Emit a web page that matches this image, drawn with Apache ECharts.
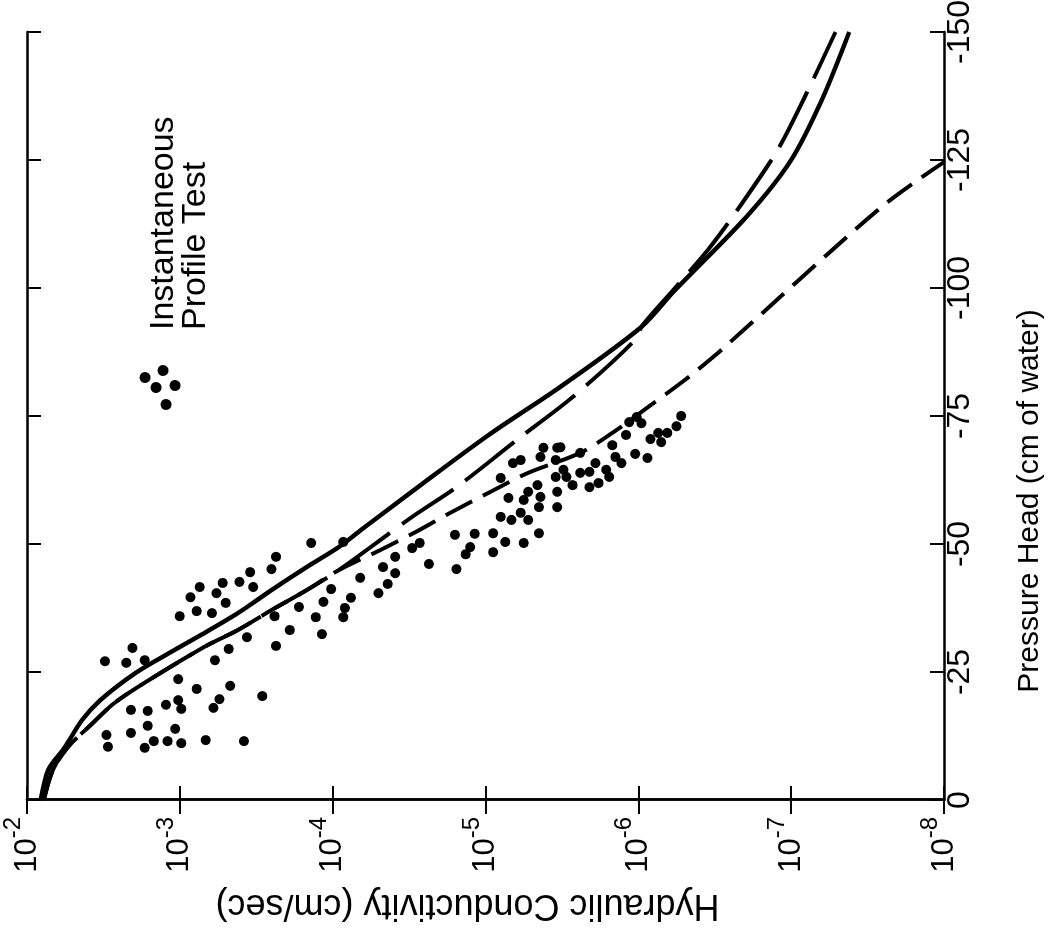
<!DOCTYPE html>
<html>
<head>
<meta charset="utf-8">
<script src="https://cdn.jsdelivr.net/npm/echarts@6/dist/echarts.min.js"></script>
<style>
html,body{margin:0;padding:0;width:1059px;height:947px;overflow:hidden;background:#fff;}
#chart{position:absolute;left:56px;top:-56px;width:947px;height:1059px;transform:rotate(-90deg);transform-origin:50% 50%;}
</style>
</head>
<body>
<div id="chart"></div>
<script>
// ---- text ----
const xAxisTitle = 'Pressure Head (cm of water)';
const yAxisTitle = 'Hydraulic Conductivity (cm/sec)';
const legendLabel = 'Instantaneous\nProfile Test';

// ---- axes ----
const pressureMin = -150, pressureMax = 0, pressureStep = 25;
const kExpMin = -8, kExpMax = -2;

// ---- observed points: pressure head (cm) and log10 K (cm/sec) ----
const obsHead = [-50.2,-47.5,-45.1,-44.5,-42.6,-42.4,-41.6,-41.6,-40.4,-39.6,-38.5,-41.2,-38.7,-37.7,-36.9,-35.9,-36.5,-35.9,-35.7,-33.2,-32.4,-31.8,-29.7,-30.1,-29.5,-27.3,-27.1,-26.8,-27.3,-23.6,-21.7,-22.3,-20.3,-19.7,-18.0,-19.5,-18.6,-17.8,-17.6,-17.4,-14.5,-13.9,-13.1,-12.7,-10.4,-10.2,-11.5,-11.5,-11.1,-11.7,-11.5,
 -50.4,-50.2,-49.2,-47.5,-45.5,-44.3,-42.2,-40.4,-43.4,-39.5,-37.5,-35.7,-46.1,-51.8,-52.0,-49.4,-48.0,-45.1,-52.1,-48.4,-50.4,-50.2,-52.1,-55.3,-54.7,-56.1,-54.7,-59.0,-58.6,-59.2,-57.2,-61.5,-60.2,-62.9,-65.8,-66.4,-67.0,-68.8,-68.8,-66.4,-63.1,-60.2,-57.2,
 -75.0,-73.0,-71.7,-71.7,-69.9,-70.5,-66.8,-67.6,-73.6,-73.8,-71.3,-74.8,-69.3,-67.0,-65.8,-64.5,-63.1,-65.8,-64.1,-63.9,-67.8,-68.9,-64.5,-63.1,-61.5,-61.9,-61.1];
const obsLogK = [-3.86,-3.63,-3.60,-3.46,-3.39,-3.28,-3.13,-3.48,-3.24,-3.07,-3.30,-3.99,-3.94,-3.78,-3.11,-3.00,-3.21,-3.62,-3.89,-3.72,-3.93,-3.44,-2.69,-3.63,-3.32,-3.23,-2.51,-2.65,-2.77,-2.99,-3.11,-3.33,-3.54,-3.26,-3.22,-2.99,-2.91,-3.01,-2.68,-2.79,-2.79,-2.97,-2.68,-2.52,-2.53,-2.77,-2.83,-2.92,-3.01,-3.17,-3.42,
 -4.07,-4.57,-4.52,-4.41,-4.33,-4.41,-4.36,-4.30,-4.18,-4.12,-4.08,-4.07,-4.63,-4.80,-4.93,-4.90,-4.87,-4.81,-5.05,-5.05,-5.13,-5.25,-5.35,-5.10,-5.17,-5.23,-5.28,-5.15,-5.25,-5.36,-5.35,-5.34,-5.28,-5.10,-5.18,-5.23,-5.36,-5.38,-5.47,-5.46,-5.46,-5.47,-5.47,
 -6.28,-6.25,-6.19,-6.13,-6.15,-6.08,-6.06,-5.98,-6.02,-5.94,-5.92,-5.99,-5.83,-5.85,-5.89,-5.79,-5.81,-5.72,-5.68,-5.62,-5.62,-5.49,-5.51,-5.53,-5.57,-5.74,-5.68];

// ---- fitted curves ----
const solidHead = [0,-5.9,-10.4,-15.6,-19.5,-24.8,-28.7,-32.6,-36.5,-41.0,-45.5,-49.4,-53.3,-62.5,-71.7,-80.7,-92.4,-99.6,-114,-125,-136.7,-150];
const solidLogK = [-2.09,-2.14,-2.25,-2.36,-2.48,-2.71,-2.93,-3.16,-3.38,-3.60,-3.83,-4.04,-4.21,-4.62,-5.04,-5.49,-6.02,-6.24,-6.71,-7.00,-7.20,-7.38];

const longDashHead = [0,-5.9,-10.4,-15.0,-18.9,-22.9,-29.9,-33.2,-37.1,-41.0,-44.9,-55.3,-61.1,-70.9,-78.7,-89.3,-92.8,-100,-108,-116.6,-127.4,-138.6,-150];
const longDashLogK = [-2.11,-2.17,-2.27,-2.43,-2.57,-2.77,-3.16,-3.38,-3.60,-3.83,-4.04,-4.52,-4.81,-5.23,-5.57,-5.96,-6.03,-6.24,-6.47,-6.68,-6.92,-7.11,-7.29];

const shortDashHead = [0,-5.9,-10.4,-15.0,-18.9,-22.9,-29.9,-33.2,-37.1,-41.0,-44.9,-48.8,-52.3,-56.1,-60.0,-63.9,-67.8,-71.7,-77.1,-82.4,-87.3,-115.8,-124.6];
const shortDashLogK = [-2.11,-2.17,-2.27,-2.43,-2.57,-2.77,-3.16,-3.38,-3.60,-3.83,-4.04,-4.31,-4.54,-4.77,-5.02,-5.28,-5.62,-5.83,-6.08,-6.32,-6.52,-7.59,-8.0];

const FONT = '"Liberation Sans", Arial, Helvetica, sans-serif';
const toPairs = (hs, ls) => hs.map((h, i) => [h, Math.pow(10, ls[i])]);

const legendIcon = 'path://' +
  'M27 5.5a5.5 5.5 0 1 0 11 0a5.5 5.5 0 1 0 -11 0Z' +
  'M34 23.5a5.5 5.5 0 1 0 11 0a5.5 5.5 0 1 0 -11 0Z' +
  'M17 16.5a5.5 5.5 0 1 0 11 0a5.5 5.5 0 1 0 -11 0Z' +
  'M19 35.5a5.5 5.5 0 1 0 11 0a5.5 5.5 0 1 0 -11 0Z' +
  'M0 26.5a5.5 5.5 0 1 0 11 0a5.5 5.5 0 1 0 -11 0Z';

const axisLineStyle = { color: '#000', width: 2.5 };
const tickStyle = { show: true, inside: true, length: 14, lineStyle: { color: '#000', width: 2 } };

const chart = echarts.init(document.getElementById('chart'));
chart.setOption({
  animation: false,
  backgroundColor: '#fff',
  grid: { left: 147, right: 32, top: 27, bottom: 115, outerBoundsMode: 'none' },
  legend: {
    left: 537, top: 123, padding: 0,
    orient: 'vertical',
    selectedMode: false,
    itemWidth: 45, itemHeight: 41,
    data: [{ name: legendLabel, icon: legendIcon }],
    formatter: name => '{sp| }\n' + name.split('\n').map(s => '{t|' + s + '}').join('\n'),
    textStyle: {
      color: '#000', padding: [0, 0, 0, 30],
      rich: {
        sp: { fontSize: 10, lineHeight: 40 },
        t: { fontFamily: FONT, fontSize: 34, lineHeight: 32, color: '#000' }
      }
    }
  },
  xAxis: [{
    type: 'value', position: 'bottom', min: pressureMin, max: pressureMax, interval: pressureStep, inverse: true,
    name: xAxisTitle, nameLocation: 'middle', nameGap: 71,
    nameTextStyle: { fontFamily: FONT, fontSize: 30, color: '#000', padding: [0, 170, 0, 0] },
    axisLine: { lineStyle: axisLineStyle }, axisTick: tickStyle,
    axisLabel: { fontFamily: FONT, fontSize: 32, color: '#000', margin: 0 },
    splitLine: { show: false }
  }, {
    type: 'value', position: 'top', min: pressureMin, max: pressureMax, interval: pressureStep, inverse: true,
    axisLine: { lineStyle: axisLineStyle }, axisTick: tickStyle, axisLabel: { show: false }, splitLine: { show: false }
  }],
  yAxis: [{
    type: 'log', logBase: 10, position: 'left', min: Math.pow(10, kExpMin), max: Math.pow(10, kExpMax),
    name: yAxisTitle, nameLocation: 'middle', nameRotate: 90, nameGap: 87,
    nameTextStyle: { fontFamily: FONT, fontSize: 36, color: '#000', padding: [0, 0, 0, 36] },
    axisLine: { lineStyle: axisLineStyle }, axisTick: tickStyle,
    axisLabel: {
      margin: 17,
      formatter: v => '{b|10}{s|' + Math.round(Math.log10(v)) + '}',
      rich: {
        b: { fontFamily: FONT, fontSize: 31, lineHeight: 51, color: '#000' },
        s: { fontFamily: FONT, fontSize: 24, lineHeight: 24, color: '#000', verticalAlign: 'top' }
      }
    },
    splitLine: { show: false }, minorTick: { show: false }
  }, {
    type: 'log', logBase: 10, position: 'right', min: Math.pow(10, kExpMin), max: Math.pow(10, kExpMax),
    axisLine: { lineStyle: axisLineStyle }, axisTick: tickStyle, axisLabel: { show: false }, splitLine: { show: false }
  }],
  series: [{
    name: legendLabel, type: 'scatter', xAxisIndex: 0, yAxisIndex: 0,
    symbol: 'circle', symbolSize: 10, itemStyle: { color: '#000', opacity: 1 },
    data: toPairs(obsHead, obsLogK)
  }, {
    name: 'solid', type: 'line', xAxisIndex: 0, yAxisIndex: 0, symbol: 'none', smooth: 0.3,
    lineStyle: { color: '#000', width: 4.5, type: 'solid' },
    data: toPairs(solidHead, solidLogK)
  }, {
    name: 'long dash', type: 'line', xAxisIndex: 0, yAxisIndex: 0, symbol: 'none', smooth: 0.3,
    lineStyle: { color: '#000', width: 4, type: [62, 15] },
    data: toPairs(longDashHead, longDashLogK)
  }, {
    name: 'short dash', type: 'line', xAxisIndex: 0, yAxisIndex: 0, symbol: 'none', smooth: 0.3,
    lineStyle: { color: '#000', width: 4, type: [30, 12] },
    data: toPairs(shortDashHead, shortDashLogK)
  }]
});
</script>
</body>
</html>
